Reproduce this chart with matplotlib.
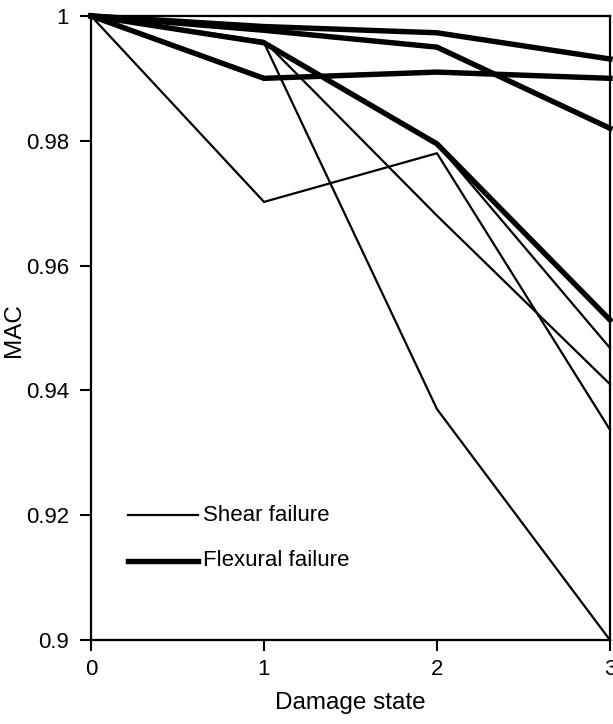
import matplotlib
matplotlib.use("Agg")
import matplotlib.pyplot as plt

plt.rcParams['font.family'] = ['Liberation Sans', 'DejaVu Sans']

damage_state = [0, 1, 2, 3]

# Shear failure specimens (thin lines)
shear_a = [1.0, 0.9702, 0.978, 0.9337]
shear_b = [1.0, 0.9957, 0.937, 0.900]
shear_c = [1.0, 0.9960, 0.968, 0.941]
shear_d = [1.0, 0.9958, 0.9795, 0.9468]
shear_series = [shear_a, shear_b, shear_c, shear_d]

# Flexural failure specimens (thick lines)
flex_a = [1.0, 0.9900, 0.9910, 0.9900]
flex_b = [1.0, 0.9957, 0.9795, 0.9513]
flex_c = [1.0, 0.9983, 0.9973, 0.9931]
flex_d = [1.0, 0.9977, 0.9950, 0.9820]
flex_series = [flex_a, flex_b, flex_c, flex_d]

y_ticks = [0.9, 0.92, 0.94, 0.96, 0.98, 1.0]
y_ticklabels = ['0.9', '0.92', '0.94', '0.96', '0.98', '1']
x_ticks = [0, 1, 2, 3]

fig = plt.figure(figsize=(6.13, 7.24), dpi=100)
ax = fig.add_axes([0.1485, 0.116, 0.8465, 0.862])

for s in shear_series:
    ax.plot(damage_state, s, color='black', lw=1.6, clip_on=False,
            solid_joinstyle='miter')
for s in flex_series:
    ax.plot(damage_state, s, color='black', lw=3.9, clip_on=False,
            solid_joinstyle='miter')

ax.set_xlim(0, 3)
ax.set_ylim(0.9, 1.0)
ax.set_xticks(x_ticks)
ax.set_xticklabels([str(v) for v in x_ticks])
ax.set_yticks(y_ticks)
ax.set_yticklabels(y_ticklabels)
ax.tick_params(axis='both', direction='out', length=8, width=1.5,
               labelsize=16, colors='black')
ax.tick_params(axis='y', pad=8)
ax.tick_params(axis='x', pad=6)
for sp in ax.spines.values():
    sp.set_linewidth(1.6)

ax.set_xlabel('Damage state', fontsize=17.5, labelpad=8)
ax.set_ylabel('MAC', fontsize=17.5)
ax.yaxis.set_label_coords(-0.128, 0.497)

# legend drawn as lines + text in axes coordinates
ax.plot([0.071, 0.207], [0.2, 0.2], transform=ax.transAxes, color='black', lw=1.6)
ax.text(0.216, 0.2, 'Shear failure', transform=ax.transAxes, fontsize=16,
        va='center', ha='left')
ax.plot([0.071, 0.207], [0.127, 0.127], transform=ax.transAxes, color='black', lw=3.9)
ax.text(0.216, 0.127, 'Flexural failure', transform=ax.transAxes, fontsize=16,
        va='center', ha='left')

fig.savefig('out.png', dpi=100)
